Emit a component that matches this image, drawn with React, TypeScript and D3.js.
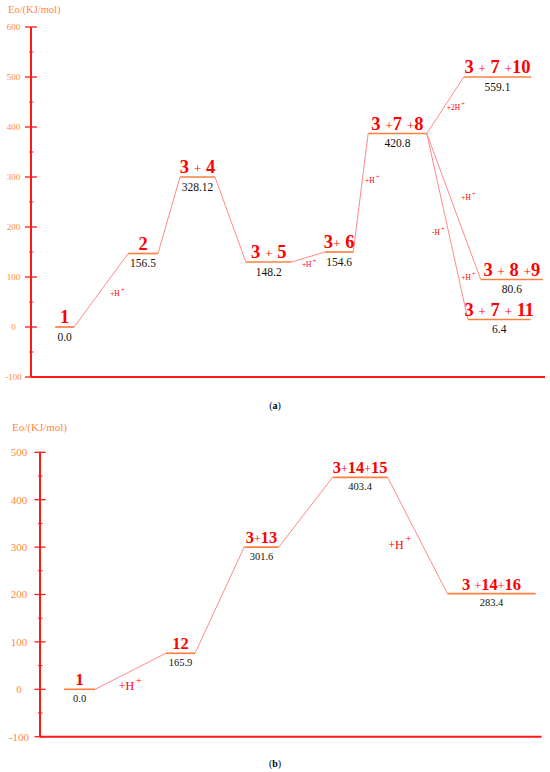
import { useEffect, useRef } from 'react';
import * as d3 from 'd3';

// ---- panel (a) ----
const namesA = ['1', '2', '3 + 4', '3 + 5', '3+ 6', '3 +7 +8', '3 + 7 +10', '3 + 8 +9', '3 + 7 + 11'];
const valueLabelsA = ['0.0', '156.5', '328.12', '148.2', '154.6', '420.8', '559.1', '80.6', '6.4'];
// energies as drawn on the figure
const energyA = [0, 147, 300, 130, 150, 387, 500, 95, 15];
// reaction coordinate (0-100) where each level starts / ends
const startA = [4.7, 18.9, 29.0, 41.8, 57.2, 65.6, 84.2, 87.5, 85.0];
const endA = [8.4, 24.7, 35.8, 50.7, 62.7, 77.0, 97.3, 99.6, 97.2];
const linksA = [[0, 1], [1, 2], [2, 3], [3, 4], [4, 5], [5, 6], [5, 7], [5, 8]];
const notesA = ['+H', '+H', '+H', '+2H', '+H', '-H', '+H'];
const noteXA = [15.4, 52.7, 65.0, 80.9, 83.7, 78.0, 83.7];
const noteYA = [62, 120, 288, 434, 254, 184, 94];
const majorTicksA = [-100, 0, 100, 200, 300, 400, 500, 600];
const minorTicksA = [-50, 50, 150, 250, 350, 450, 550];

// ---- panel (b) ----
const namesB = ['1', '12', '3+13', '3+14+15', '3 +14+16'];
const valueLabelsB = ['0.0', '165.9', '301.6', '403.4', '283.4'];
const energyB = [0, 76, 300, 447, 202];
const startB = [4.8, 25.1, 40.7, 58.3, 81.2];
const endB = [11.0, 30.9, 47.6, 69.3, 98.8];
const linksB = [[0, 1], [1, 2], [2, 3], [3, 4]];
const notesB = ['+H', '+H'];
const noteXB = [15.7, 69.4];
const noteYB = [-2, 296];
const majorTicksB = [-100, 0, 100, 200, 300, 400, 500];
const minorTicksB = [-50, 50, 150, 250, 350, 450];

const SERIF = '"Liberation Serif", "DejaVu Serif", serif';
const AXIS_RED = '#ff1a1a';
const ORANGE = '#ff8a3d';
const LEVEL = '#ff8040';
const LINK = '#ff8a8a';
const LABEL_RED = '#ff0000';

function drawPanel(svg, p) {
    const g = svg.append('g');
    const x = d3.scaleLinear().domain([0, 100]).range([p.left, p.right]);
    const y = d3.scaleLinear().domain(p.yDomain).range([p.bottom, p.top]);

    // axis title
    g.append('text')
        .attr('x', p.titleX).attr('y', p.titleY)
        .style('font-family', SERIF).style('font-size', p.titleSize + 'px')
        .style('fill', ORANGE)
        .text('Eo/(KJ/mol)');

    // y axis + x baseline
    g.append('line')
        .attr('x1', p.left).attr('x2', p.left)
        .attr('y1', y(p.yDomain[1])).attr('y2', y(p.yDomain[0]))
        .attr('stroke', AXIS_RED).attr('stroke-width', 2);
    g.append('line')
        .attr('x1', p.left).attr('x2', p.axisEnd)
        .attr('y1', y(p.yDomain[0])).attr('y2', y(p.yDomain[0]))
        .attr('stroke', AXIS_RED).attr('stroke-width', 2);

    g.selectAll('.major').data(p.major).enter().append('line')
        .attr('x1', p.left - p.majorLen).attr('x2', p.left + p.majorLen)
        .attr('y1', d => y(d)).attr('y2', d => y(d))
        .attr('stroke', AXIS_RED).attr('stroke-width', 1.3);
    g.selectAll('.minor').data(p.minor).enter().append('line')
        .attr('x1', p.left - 2).attr('x2', p.left + 2.5)
        .attr('y1', d => y(d)).attr('y2', d => y(d))
        .attr('stroke', AXIS_RED).attr('stroke-width', 1);
    g.selectAll('.ticklabel').data(p.major).enter().append('text')
        .attr('x', p.tickLabelX).attr('y', d => y(d))
        .attr('dy', '0.35em').attr('text-anchor', 'middle')
        .style('font-family', SERIF).style('font-size', p.tickSize + 'px')
        .style('fill', ORANGE)
        .text(d => d);

    // connectors
    g.selectAll('.link').data(p.links).enter().append('line')
        .attr('x1', d => x(p.end[d[0]])).attr('y1', d => y(p.energy[d[0]]))
        .attr('x2', d => x(p.start[d[1]])).attr('y2', d => y(p.energy[d[1]]))
        .attr('stroke', LINK).attr('stroke-width', 1);

    // levels
    g.selectAll('.level').data(p.energy).enter().append('line')
        .attr('x1', (d, i) => x(p.start[i])).attr('x2', (d, i) => x(p.end[i]))
        .attr('y1', d => y(d)).attr('y2', d => y(d))
        .attr('stroke', LEVEL).attr('stroke-width', 1.7);

    // species names
    p.names.forEach((name, i) => {
        const t = g.append('text')
            .attr('x', (x(p.start[i]) + x(p.end[i])) / 2)
            .attr('y', y(p.energy[i]) - 4)
            .attr('text-anchor', 'middle')
            .style('font-family', SERIF).style('font-weight', 'bold')
            .style('fill', LABEL_RED).style('white-space', 'pre');
        name.split(/(\+)/).forEach(part => {
            t.append('tspan')
                .style('font-size', part === '+' ? p.plusSize + 'px' : p.nameSize + 'px')
                .style('font-weight', part === '+' ? 'normal' : 'bold')
                .text(part);
        });
    });

    // value labels
    g.selectAll('.val').data(p.valueLabels).enter().append('text')
        .attr('x', (d, i) => (x(p.start[i]) + x(p.end[i])) / 2)
        .attr('y', (d, i) => y(p.energy[i]) + p.valueSize + 2)
        .attr('text-anchor', 'middle')
        .style('font-family', SERIF).style('font-size', p.valueSize + 'px')
        .style('fill', '#111')
        .text(d => d);

    // proton notes
    p.notes.forEach((n, i) => {
        const t = g.append('text')
            .attr('x', x(p.noteX[i])).attr('y', y(p.noteY[i]))
            .style('font-family', SERIF).style('font-size', p.noteSize + 'px')
            .style('fill', LABEL_RED);
        t.append('tspan').text(n);
        t.append('tspan')
            .attr('dx', p.noteSize * 0.15)
            .attr('dy', -p.noteSize * 0.55)
            .style('font-size', p.noteSize * 0.85 + 'px')
            .text('+');
    });

    // caption
    const c = g.append('text')
        .attr('x', 275).attr('y', p.captionY)
        .attr('text-anchor', 'middle')
        .style('font-family', SERIF).style('font-size', '10px').style('fill', '#000');
    c.append('tspan').text('(');
    c.append('tspan').style('font-weight', 'bold').text(p.caption);
    c.append('tspan').text(')');
}

const App = () => {
    const svgRef = useRef(null);

    useEffect(() => {
        document.body.style.margin = '0';
        const svg = d3.select(svgRef.current);
        svg.selectAll('*').remove();

        drawPanel(svg, {
            left: 31, right: 545, axisEnd: 545, top: 27, bottom: 377,
            yDomain: [-100, 600], major: majorTicksA, minor: minorTicksA, majorLen: 6,
            tickLabelX: 13.5, tickSize: 9, titleX: 8, titleY: 13, titleSize: 10.5,
            names: namesA, valueLabels: valueLabelsA, energy: energyA,
            start: startA, end: endA, links: linksA,
            notes: notesA, noteX: noteXA, noteY: noteYA,
            nameSize: 18.5, plusSize: 13.5, valueSize: 11.5, noteSize: 7.5,
            caption: 'a', captionY: 409,
        });

        drawPanel(svg, {
            left: 40, right: 541.7, axisEnd: 541.7, top: 452.3, bottom: 736.7,
            yDomain: [-100, 500], major: majorTicksB, minor: minorTicksB, majorLen: 5.5,
            tickLabelX: 19, tickSize: 11, titleX: 12, titleY: 431, titleSize: 11,
            names: namesB, valueLabels: valueLabelsB, energy: energyB,
            start: startB, end: endB, links: linksB,
            notes: notesB, noteX: noteXB, noteY: noteYB,
            nameSize: 16.5, plusSize: 12, valueSize: 10.5, noteSize: 12,
            caption: 'b', captionY: 767,
        });
    }, []);

    return (
        <svg ref={svgRef} width={550} height={772} style={{ display: 'block', background: '#fff' }}></svg>
    );
};

export default App;
